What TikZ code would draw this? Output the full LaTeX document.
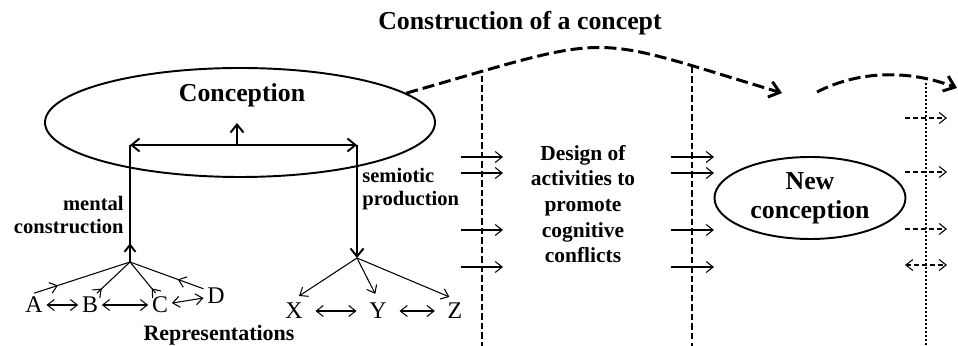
\documentclass[tikz,border=0pt]{standalone}
\usepackage{fontspec}
\setmainfont{Liberation Serif}
\usepackage{xcolor}
\definecolor{cInk}{HTML}{000000}
\usepackage{tikz}
\usetikzlibrary{arrows.meta,shapes.geometric,decorations.markings}
\tikzset{
  txt-big/.style={font=\fontsize{14.7}{16.4}\selectfont\bfseries,inner sep=0pt,text=cInk},
  txt-mid/.style={font=\fontsize{11.7}{12.8}\selectfont\bfseries,inner sep=0pt,text=cInk},
  txt-block/.style={font=\fontsize{12.2}{14.6}\selectfont\bfseries,inner sep=0pt,align=center,text=cInk},
  txt-letter/.style={font=\fontsize{13.6}{15}\selectfont,inner sep=2pt,text=cInk},
  node-concept/.style={draw=cInk,ellipse,line width=1.1pt,inner sep=0pt},
  line-main/.style={line width=1.1pt,draw=cInk},
  arrow-main/.style={line-main,-{Straight Barb[length=1.6mm,width=2.6mm]}},
  arrow-both/.style={line-main,{Straight Barb[length=1.6mm,width=2.6mm]}-{Straight Barb[length=1.6mm,width=2.6mm]}},
  arrow-thin/.style={line width=0.6pt,draw=cInk,-{Straight Barb[length=1.4mm,width=2.2mm]}},
  arrow-thin-both/.style={line width=0.6pt,draw=cInk,{Straight Barb[length=1.4mm,width=2.2mm]}-{Straight Barb[length=1.4mm,width=2.2mm]}},
  arrow-dotted/.style={arrow-thin,dash pattern=on 1mm off 0.6mm},
  arrow-dotted-both/.style={arrow-thin-both,dash pattern=on 1mm off 0.6mm},
  arrow-flow/.style={line width=1.7pt,draw=cInk,dash pattern=on 2.4mm off 1mm,-{Straight Barb[length=2mm,width=3.2mm]}},
  line-phase/.style={line width=1.2pt,draw=cInk,dash pattern=on 1.3mm off 0.6mm},
  line-phase-fine/.style={line width=1.1pt,draw=cInk,dash pattern=on 0.45mm off 0.35mm},
  mid-arrow/.style={postaction={decorate},decoration={markings,
    mark=at position #1 with {\arrow{Straight Barb[length=1.4mm,width=2.2mm]}}}},
}

\begin{document}
\begin{tikzpicture}[x=0.2mm,y=-0.2mm]
  \useasboundingbox (0,0) rectangle (958,346);
  \node[txt-big,anchor=base] (title) at (520,30) {Construction of a concept};

  % first conception and its two sides
  \node[node-concept,minimum width=78mm,minimum height=21.8mm] (concep) at (240,122.5) {};
  \node[txt-big,anchor=base] (conceptext) at (242,102) {Conception};
  \coordinate (hl) at (130,145);
  \coordinate (hr) at (357,145);
  \coordinate (hm) at (237,145);
  \coordinate (hup) at (237,123);
  \coordinate (jleft) at (130,262);
  \coordinate (jright) at (357,258);
  \draw[arrow-both] (hl) -- (hr);
  \draw[arrow-main] (hm) -- (hup);
  \draw[line-main,mid-arrow=0.16] (jleft) -- (hl);
  \draw[arrow-main] (hr) -- (jright);
  \node[txt-mid,align=right,anchor=east] (mental) at (124,215) {mental\\construction};
  \node[txt-mid,align=left,anchor=west] (semiotic) at (362,189) {semiotic\\production};

  % representations
  \foreach \name/\x/\y in {A/34/305, B/90/305, C/160/305, D/216/296, X/294/311, Y/378/311, Z/455/311}
    \node[txt-letter] (\name) at (\x,\y) {\name};
  \draw[line width=0.6pt,mid-arrow=0.25] (A.north) -- (jleft);
  \draw[line width=0.6pt,mid-arrow=0.15] (B.60) -- (jleft);
  \draw[line width=0.6pt,mid-arrow=0.15] (C.110) -- (jleft);
  \draw[line width=0.6pt,mid-arrow=0.35] (D.150) -- (jleft);
  \draw[arrow-thin-both] (A) -- (B);
  \draw[arrow-thin-both] (B) -- (C);
  \draw[arrow-thin-both] (C) -- (D);
  \foreach \name in {X,Y,Z}
    \draw[arrow-thin,shorten >=1.2mm] (jright) -- (\name.north);
  \draw[arrow-thin-both,shorten <=1.8mm,shorten >=1.8mm] (X) -- (Y);
  \draw[arrow-thin-both,shorten <=1.8mm,shorten >=1.8mm] (Y) -- (Z);
  \node[txt-mid,font=\fontsize{12.5}{14}\selectfont\bfseries] (repr) at (219,335) {Representations};

  % phases of the construction
  \coordinate (gap) at (782,93);
  \coordinate (restart) at (817,92);
  \coordinate (outr) at (957,88);
  \draw[arrow-flow] (concep.10) .. controls (620,32) and (582,33) .. (gap);
  \draw[arrow-flow] (restart) .. controls (860,70) and (910,70) .. (outr);
  \foreach \name/\x/\y in {pa/482/76, pb/692/67, pc/926/83}
    \coordinate (\name) at (\x,\y);
  \draw[line-phase] (pa) -- (pa |- 0,346);
  \draw[line-phase] (pb) -- (pb |- 0,346);
  \draw[line-phase-fine] (pc) -- (pc |- 0,346);
  \foreach \y in {157,173,230,267} {
    \draw[arrow-thin] (461,\y) -- (503,\y);
    \draw[arrow-thin] (671,\y) -- (714,\y);
  }
  \foreach \y in {118,172,229}
    \draw[arrow-dotted] (905,\y) -- (947,\y);
  \draw[arrow-dotted-both] (905,265) -- (947,265);
  \node[txt-block] (design) at (583,204) {Design of\\activities to\\promote\\cognitive\\conflicts};
  \node[node-concept,minimum width=38.2mm,minimum height=16.4mm,txt-big,align=center] (newconcep) at (810,198) {New\\conception};
\end{tikzpicture}
\end{document}
